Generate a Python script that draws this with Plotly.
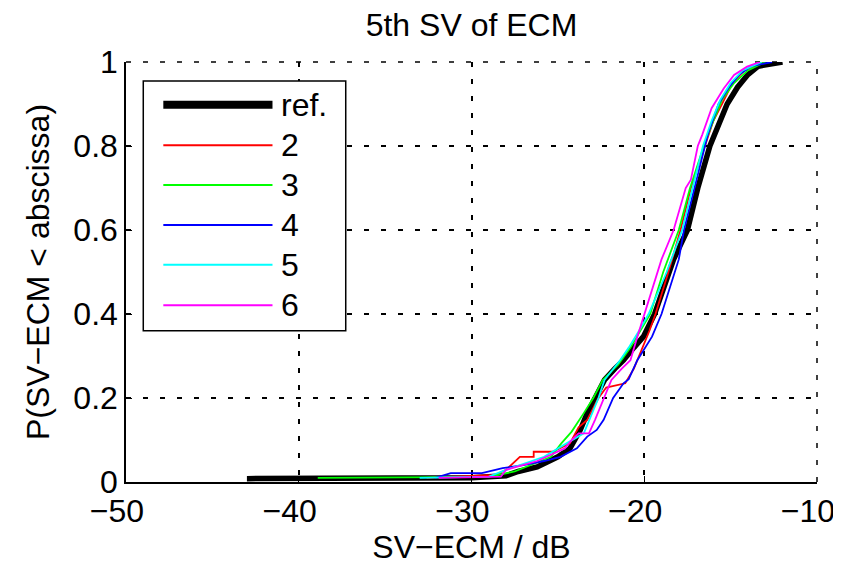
# %% import
import plotly.graph_objects as go

# %% [1] Data
series_names = ["ref.", "2", "3", "4", "5", "6"]

ref_x = [-43.0, -38.0, -30.0, -28.0, -27.3, -26.2, -25.0, -24.3, -23.7, -23.3,
         -22.85, -22.3, -21.7, -21.2, -20.6, -20.05, -19.4, -19.0, -18.3, -17.5,
         -16.9, -16.2, -15.7, -15.2, -14.6, -14.0, -13.4, -12.0]
ref_y = [0.008, 0.008, 0.01, 0.015, 0.025, 0.036, 0.06, 0.08, 0.124, 0.164,
         0.2, 0.243, 0.27, 0.29, 0.32, 0.346, 0.4, 0.45, 0.53, 0.6,
         0.7, 0.8, 0.85, 0.9, 0.94, 0.97, 0.99, 1.0]

s2_x = [-32.6, -28.6, -28.0, -27.2, -26.4, -26.4, -25.3, -24.3, -23.8, -23.3,
        -22.65, -22.2, -21.1, -20.6, -19.7, -19.35, -18.6, -17.9, -17.3, -16.5,
        -16.0, -15.5, -14.9, -14.2, -13.0]
s2_y = [0.01, 0.017, 0.029, 0.06, 0.06, 0.072, 0.072, 0.092, 0.13, 0.148,
        0.2, 0.225, 0.235, 0.27, 0.36, 0.4, 0.5, 0.6, 0.7, 0.8,
        0.86, 0.9, 0.95, 0.98, 1.0]

s3_x = [-38.9, -29.0, -27.5, -25.4, -24.8, -24.2, -23.5, -22.95, -22.4, -21.5,
        -20.8, -20.2, -19.65, -18.9, -18.0, -17.35, -16.55, -16.0, -15.5, -14.8,
        -14.0, -13.0]
s3_y = [0.01, 0.012, 0.025, 0.06, 0.092, 0.12, 0.164, 0.2, 0.243, 0.28,
        0.32, 0.36, 0.4, 0.5, 0.6, 0.7, 0.8, 0.86, 0.91, 0.95,
        0.98, 1.0]

s4_x = [-32.1, -31.2, -29.4, -28.2, -27.0, -25.8, -24.85, -23.9, -23.3, -22.75,
        -22.35, -21.8, -21.2, -20.9, -20.4, -19.55, -19.0, -18.0, -17.7, -16.45,
        -16.3, -15.7, -15.1, -14.5, -13.8, -12.6]
s4_y = [0.01, 0.021, 0.021, 0.033, 0.04, 0.05, 0.06, 0.08, 0.108, 0.124,
        0.148, 0.2, 0.235, 0.245, 0.29, 0.346, 0.4, 0.53, 0.6, 0.8,
        0.83, 0.9, 0.94, 0.97, 0.99, 1.0]

s5_x = [-33.0, -29.0, -28.0, -25.8, -24.5, -23.5, -22.65, -22.3, -21.4, -20.9,
        -20.3, -19.75, -18.7, -17.8, -17.2, -16.6, -16.1, -15.6, -15.0, -14.3,
        -13.2]
s5_y = [0.01, 0.013, 0.029, 0.06, 0.092, 0.116, 0.2, 0.243, 0.29, 0.32,
        0.36, 0.4, 0.5, 0.6, 0.7, 0.8, 0.86, 0.91, 0.95, 0.98,
        1.0]

s6_x = [-31.9, -28.3, -28.0, -26.2, -24.6, -24.2, -23.8, -23.2, -22.85, -22.35,
        -21.9, -21.3, -20.8, -20.4, -20.0, -19.0, -18.3, -17.6, -17.3, -16.9,
        -16.65, -16.1, -15.4, -14.8, -14.05, -13.3]
s6_y = [0.01, 0.013, 0.029, 0.05, 0.08, 0.1, 0.116, 0.116, 0.148, 0.2,
        0.243, 0.27, 0.29, 0.346, 0.4, 0.53, 0.6, 0.7, 0.72, 0.8,
        0.826, 0.89, 0.937, 0.969, 0.989, 1.0]

x_ticks = [-50, -40, -30, -20, -10]
y_ticks = [0, 0.2, 0.4, 0.6, 0.8, 1]

# %% [2] Figure settings
FIG_WIDTH = 841
FIG_HEIGHT = 567
PAGE_OFFSET = 8          # the html body adds an 8px margin, shift everything back
FONT = "Liberation Sans, Arial, Helvetica, sans-serif"
FONT_SIZE = 32
GRID_DASH = "5px,12px"

xs = [ref_x, s2_x, s3_x, s4_x, s5_x, s6_x]
ys = [ref_y, s2_y, s3_y, s4_y, s5_y, s6_y]
colors = ["#000000", "#ff0000", "#00ff00", "#0000ff", "#00ffff", "#ff00ff"]
widths = [5.5, 1.8, 1.8, 1.8, 1.8, 1.8]
legend_widths = [8, 2, 2, 2, 2, 2]

# %% [3] Curves
fig = go.Figure()

for name, x, y, c, w in zip(series_names, xs, ys, colors, widths):
    fig.add_trace(
        go.Scatter(
            x=x,
            y=y,
            name=name,
            mode="lines",
            line=dict(color=c, width=w),
            showlegend=False
        )
    )

# %% [4] Dotted grid lines along the top and right edge (plotly skips them)
fig.add_shape(
    type="line", xref="x domain", yref="y domain",
    x0=0, x1=1, y0=1, y1=1, opacity=1, layer="below",
    line=dict(color="black", width=1.5, dash=GRID_DASH)
)
fig.add_shape(
    type="line", xref="x domain", yref="y domain",
    x0=1, x1=1, y0=0, y1=1, opacity=1, layer="below",
    line=dict(color="black", width=1.5, dash=GRID_DASH)
)

# %% [5] Hand-made legend (MATLAB style box with long line samples)
fig.add_shape(
    type="rect", xref="x domain", yref="y domain",
    x0=0.025, x1=0.318, y0=0.36, y1=0.955, opacity=1,
    line=dict(color="black", width=1.5), fillcolor="white", layer="above"
)

entry_y = [0.898, 0.802, 0.707, 0.612, 0.517, 0.421]
for name, c, w, ey in zip(series_names, colors, legend_widths, entry_y):
    fig.add_shape(
        type="line", xref="x domain", yref="y domain",
        x0=0.054, x1=0.212, y0=ey, y1=ey, opacity=1,
        line=dict(color=c, width=w), layer="above"
    )
    fig.add_annotation(
        xref="x domain", yref="y domain", x=0.222, y=ey,
        text=name, showarrow=False, xanchor="left", yanchor="middle",
        font=dict(size=FONT_SIZE, color="black")
    )

# %% [6] Layout
axis_style = dict(
    showgrid=True,
    gridcolor="black",
    gridwidth=1.5,
    griddash=GRID_DASH,
    showline=True,
    linecolor="black",
    linewidth=1.5,
    ticks="inside",
    ticklen=6,
    tickcolor="black",
    tickfont=dict(size=FONT_SIZE, color="black"),
    ticklabeloverflow="allow",
    zeroline=False,
    mirror=False
)

fig.update_layout(
    title=dict(
        text="5th SV of ECM",
        x=0.5, xref="paper", xanchor="center",
        y=1 - (25 - PAGE_OFFSET) / FIG_HEIGHT, yref="container", yanchor="middle",
        font=dict(size=FONT_SIZE, color="black")
    ),
    template="simple_white",
    width=FIG_WIDTH,
    height=FIG_HEIGHT,
    margin=dict(l=126 - PAGE_OFFSET, r=24 + PAGE_OFFSET,
                t=62 - PAGE_OFFSET, b=85 + PAGE_OFFSET, autoexpand=False),
    font=dict(family=FONT, size=FONT_SIZE, color="black"),
    plot_bgcolor="white",
    paper_bgcolor="white",
    xaxis=dict(
        range=[-50, -10],
        tickvals=x_ticks,
        # MATLAB centres the digits on the tick, the minus sign hangs left
        ticklabelshift=-9,
        title=dict(text="SV\u2212ECM / dB", standoff=4,
                   font=dict(size=FONT_SIZE, color="black")),
        **axis_style
    ),
    yaxis=dict(
        range=[0, 1],
        tickvals=y_ticks,
        ticktext=[str(v) for v in y_ticks],
        title=dict(text="P(SV\u2212ECM < abscissa)", standoff=14,
                   font=dict(size=FONT_SIZE, color="black")),
        **axis_style
    )
)

fig.write_html("out.html")
